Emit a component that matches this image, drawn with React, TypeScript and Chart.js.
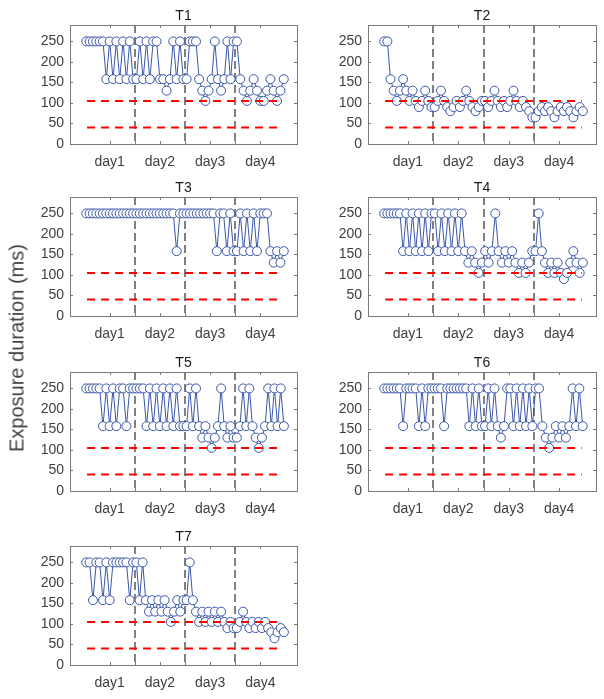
import React, { useEffect, useRef } from "react";
import { Chart, registerables } from "chart.js";
Chart.register(...registerables);

const dayLabels = ["day1", "day2", "day3", "day4"];
const dayTicks = [1, 2, 3, 4];
const dayBoundaries = [1.5, 2.5, 3.5];
const yTicks = [0, 50, 100, 150, 200, 250];
const thresholds = [105, 40];
const titles = ["T1", "T2", "T3", "T4", "T5", "T6", "T7"];

const T1 = [
  [250, 250, 250, 250, 250, 250, 158, 250, 158, 250, 158, 250, 158, 250, 158],
  [158, 250, 158, 250, 158, 250, 250, 158, 158, 130, 158, 250, 158, 250, 158],
  [158, 250, 250, 250, 158, 130, 105, 130, 158, 250, 158, 130, 158, 250, 158, 250],
  [250, 158, 130, 105, 130, 158, 130, 105, 105, 130, 158, 130, 105, 130, 158],
];
const T2 = [
  [250, 250, 158, 130, 105, 130, 158, 130, 105, 130, 105, 90, 105, 130, 105, 90],
  [90, 105, 130, 105, 90, 80, 90, 105, 90, 105, 130, 105, 90, 80, 90, 105],
  [105, 90, 105, 130, 105, 90, 105, 90, 105, 130, 105, 90, 105, 90, 80, 65],
  [65, 80, 90, 80, 90, 80, 65, 80, 90, 80, 90, 80, 65, 80, 90, 80],
];
const T3 = [
  [250, 250, 250, 250, 250, 250, 250, 250, 250, 250, 250, 250, 250, 250, 250],
  [250, 250, 250, 250, 250, 250, 250, 250, 250, 250, 250, 250, 158, 250, 250],
  [250, 250, 250, 250, 250, 250, 250, 250, 250, 158, 250, 250, 158, 250, 158],
  [158, 250, 158, 250, 158, 250, 158, 250, 250, 250, 158, 130, 158, 130, 158],
];
const T4 = [
  [250, 250, 250, 250, 250, 250, 158, 250, 158, 250, 158, 250, 158, 250, 158, 250],
  [250, 158, 250, 158, 250, 158, 250, 158, 250, 158, 130, 158, 130, 105, 130],
  [158, 130, 158, 250, 158, 130, 158, 130, 158, 130, 105, 130, 105, 130, 158],
  [158, 250, 158, 130, 105, 130, 105, 130, 105, 90, 105, 130, 158, 130, 105, 130],
];
const T5 = [
  [250, 250, 250, 250, 250, 158, 250, 158, 250, 158, 250, 250, 158, 250, 250],
  [250, 250, 250, 158, 250, 158, 250, 158, 250, 158, 250, 158, 250, 158, 158],
  [158, 250, 158, 250, 158, 130, 158, 130, 105, 130, 158, 250, 158, 130, 158, 130],
  [130, 158, 250, 158, 250, 158, 130, 105, 130, 158, 250, 158, 250, 158, 250, 158],
];
const T6 = [
  [250, 250, 250, 250, 250, 250, 158, 250, 250, 250, 250, 158, 250, 158, 250, 250],
  [250, 250, 250, 158, 250, 250, 250, 250, 250, 250, 250, 158, 250, 158, 250, 158],
  [158, 250, 158, 250, 158, 130, 158, 250, 250, 158, 250, 158, 250, 158, 250, 158],
  [250, 250, 158, 130, 105, 130, 158, 130, 158, 130, 158, 250, 158, 250, 158],
];
const T7 = [
  [250, 250, 158, 250, 250, 158, 250, 158, 250, 250, 250, 250, 250, 158, 250],
  [250, 158, 250, 158, 130, 158, 130, 158, 130, 158, 130, 105, 130, 158, 130, 158],
  [158, 250, 158, 130, 105, 130, 105, 130, 105, 130, 105, 130, 105, 90, 105, 90],
  [90, 105, 130, 105, 90, 105, 90, 105, 90, 105, 90, 80, 65, 80, 90, 80],
];
const panelsData = [T1, T2, T3, T4, T5, T6, T7];

const BLUE = "#3a56a8";
const FONT = "'Liberation Sans', Arial, Helvetica, sans-serif";
const colLeft = [70, 368];
const colWidth = [227, 228];
const rowTop = [25, 197, 372, 546];
const PH = 119;
const PADL = 60, PADT = 25, PADR = 8, PADB = 35;

const framePlugin = {
  id: "frame",
  beforeDatasetsDraw(chart: any) {
    const { ctx, chartArea: a, scales } = chart;
    ctx.save();
    ctx.strokeStyle = "#808080";
    ctx.lineWidth = 2;
    ctx.setLineDash([8, 4]);
    dayBoundaries.forEach((b) => {
      const x = Math.round(scales.x.getPixelForValue(b));
      ctx.beginPath();
      ctx.moveTo(x, a.top);
      ctx.lineTo(x, a.bottom);
      ctx.stroke();
    });
    ctx.restore();
  },
  afterDraw(chart: any) {
    const { ctx, chartArea: a, scales } = chart;
    ctx.save();
    ctx.strokeStyle = "#7a7a7a";
    ctx.lineWidth = 1;
    ctx.setLineDash([]);
    ctx.strokeRect(Math.round(a.left) + 0.5, Math.round(a.top) + 0.5, Math.round(a.right - a.left), Math.round(a.bottom - a.top));
    const tl = 3;
    ctx.beginPath();
    [...dayTicks, ...dayBoundaries].forEach((v) => {
      const x = Math.round(scales.x.getPixelForValue(v)) + 0.5;
      ctx.moveTo(x, a.bottom);
      ctx.lineTo(x, a.bottom - tl);
      ctx.moveTo(x, a.top);
      ctx.lineTo(x, a.top + tl);
    });
    yTicks.forEach((v) => {
      const y = Math.round(scales.y.getPixelForValue(v)) + 0.5;
      ctx.moveTo(a.left, y);
      ctx.lineTo(a.left + tl, y);
      ctx.moveTo(a.right, y);
      ctx.lineTo(a.right - tl, y);
    });
    ctx.stroke();
    ctx.fillStyle = "#1a1a1a";
    ctx.font = `14px ${FONT}`;
    ctx.textAlign = "center";
    ctx.textBaseline = "alphabetic";
    ctx.fillText(chart.options.plugins.frame.title, (a.left + a.right) / 2, a.top - 5);
    ctx.restore();
  },
};

function Panel({ idx }: { idx: number }) {
  const ref = useRef<HTMLCanvasElement | null>(null);
  const col = idx % 2;
  const row = Math.floor(idx / 2);
  const W = colWidth[col];
  const cw = W + PADL + PADR;
  const ch = PH + PADT + PADB;
  useEffect(() => {
    const days = panelsData[idx];
    const pts: { x: number; y: number }[] = [];
    days.forEach((vals, di) => {
      vals.forEach((v, j) => pts.push({ x: di + 0.5 + (j + 0.5) / vals.length, y: v }));
    });
    const chart = new Chart(ref.current as HTMLCanvasElement, {
      type: "line",
      data: {
        datasets: [
          {
            data: pts,
            borderColor: BLUE,
            borderWidth: 1,
            pointRadius: 4.5,
            pointBackgroundColor: "#ffffff",
            pointBorderColor: BLUE,
            pointBorderWidth: 1,
            tension: 0,
            order: 2,
          } as any,
          ...thresholds.map((t) => ({
            data: [
              { x: 0.55, y: t },
              { x: 4.45, y: t },
            ],
            borderColor: "#ff0000",
            borderWidth: 2,
            borderDash: [8, 6],
            pointRadius: 0,
            order: 1,
          })),
        ],
      },
      options: {
        animation: false,
        responsive: false,
        devicePixelRatio: 1,
        layout: { padding: { left: 10, top: PADT, right: PADR, bottom: 0 } },
        plugins: {
          legend: { display: false },
          tooltip: { enabled: false },
          title: { display: false },
          frame: { title: titles[idx] },
        } as any,
        scales: {
          x: {
            type: "linear",
            min: 0.21,
            max: 4.73,
            grid: { display: false, drawTicks: false },
            border: { display: false },
            afterBuildTicks: (s: any) => {
              s.ticks = dayTicks.map((v) => ({ value: v }));
            },
            afterFit: (s: any) => {
              s.height = PADB;
            },
            ticks: {
              padding: 10,
              color: "#404040",
              font: { family: FONT, size: 14 },
              maxRotation: 0,
              autoSkip: false,
              callback: (v: any) => dayLabels[dayTicks.indexOf(Number(v))] ?? "",
            },
          },
          y: {
            type: "linear",
            min: 0,
            max: 290,
            grid: { display: false, drawTicks: false },
            border: { display: false },
            afterBuildTicks: (s: any) => {
              s.ticks = yTicks.map((v) => ({ value: v }));
            },
            afterFit: (s: any) => {
              s.width = 50;
            },
            ticks: {
              padding: 6,
              color: "#404040",
              font: { family: FONT, size: 14 },
              autoSkip: false,
            },
          },
        },
      },
      plugins: [framePlugin],
    });
    return () => chart.destroy();
  }, [idx]);
  return (
    <canvas
      ref={ref}
      width={cw}
      height={ch}
      style={{
        position: "absolute",
        left: colLeft[col] - PADL,
        top: rowTop[row] - PADT,
        width: cw,
        height: ch,
      }}
    />
  );
}

export default function App() {
  return (
    <div style={{ position: "absolute", left: 0, top: 0, width: 604, height: 699, background: "#fff", overflow: "hidden" }}>
      {titles.map((_, i) => (
        <Panel key={i} idx={i} />
      ))}
      <div
        style={{
          position: "absolute",
          left: 17,
          top: 348,
          transform: "translate(-50%, -50%) rotate(-90deg)",
          whiteSpace: "nowrap",
          fontFamily: FONT,
          fontSize: 20,
          color: "#404040",
        }}
      >
        Exposure duration (ms)
      </div>
    </div>
  );
}
